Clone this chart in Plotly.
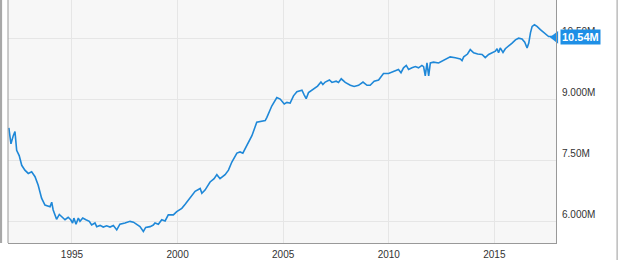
import plotly.graph_objects as go

years = [
    1992.01, 1992.11, 1992.22, 1992.30, 1992.38, 1992.50, 1992.62, 1992.77, 1992.93, 1993.09,
    1993.25, 1993.40, 1993.56, 1993.72, 1993.96, 1994.04, 1994.11, 1994.27, 1994.40, 1994.51,
    1994.67, 1994.82, 1994.94, 1995.03, 1995.09, 1995.19, 1995.30, 1995.38, 1995.51, 1995.66,
    1995.82, 1995.93, 1996.09, 1996.17, 1996.33, 1996.48, 1996.64, 1996.80, 1996.96, 1997.12,
    1997.27, 1997.51, 1997.75, 1997.91, 1998.07, 1998.22, 1998.38, 1998.49, 1998.70, 1998.85,
    1998.93, 1999.09, 1999.25, 1999.41, 1999.56, 1999.80, 1999.96, 2000.20, 2000.36, 2000.59,
    2000.83, 2001.07, 2001.15, 2001.30, 2001.54, 2001.73, 2001.86, 2002.01, 2002.25, 2002.41,
    2002.57, 2002.81, 2002.96, 2003.09, 2003.28, 2003.52, 2003.75, 2003.99, 2004.15, 2004.23,
    2004.46, 2004.70, 2004.86, 2005.05, 2005.18, 2005.33, 2005.49, 2005.65, 2005.89, 2006.00,
    2006.09, 2006.20, 2006.44, 2006.63, 2006.79, 2006.88, 2006.99, 2007.19, 2007.31, 2007.51,
    2007.62, 2007.75, 2007.94, 2008.18, 2008.36, 2008.57, 2008.78, 2008.97, 2009.12, 2009.31,
    2009.52, 2009.75, 2009.99, 2010.15, 2010.31, 2010.46, 2010.58, 2010.70, 2010.83, 2010.94,
    2011.10, 2011.26, 2011.41, 2011.57, 2011.65, 2011.73, 2011.81, 2011.89, 2011.97, 2012.12,
    2012.36, 2012.52, 2012.73, 2012.91, 2013.15, 2013.39, 2013.47, 2013.55, 2013.73, 2013.86,
    2014.02, 2014.21, 2014.42, 2014.57, 2014.73, 2014.89, 2015.05, 2015.13, 2015.20, 2015.28,
    2015.41, 2015.52, 2015.68, 2015.84, 2016.00, 2016.15, 2016.31, 2016.44, 2016.55, 2016.63,
    2016.71, 2016.79, 2016.90, 2017.02, 2017.18, 2017.42, 2017.57, 2017.73, 2017.89,
]

values_m = [
    8.31, 7.92, 8.12, 8.22, 7.76, 7.63, 7.39, 7.27, 7.19, 7.23,
    7.11, 6.90, 6.58, 6.41, 6.37, 6.48, 6.29, 6.06, 6.18, 6.13,
    6.05, 6.11, 6.05, 5.97, 6.09, 5.94, 6.09, 6.01, 6.09, 6.05,
    6.01, 5.92, 5.97, 5.88, 5.91, 5.87, 5.90, 5.87, 5.91, 5.80,
    5.94, 5.97, 6.01, 5.99, 5.94, 5.88, 5.76, 5.86, 5.88, 5.92,
    5.97, 5.94, 6.05, 6.02, 6.17, 6.17, 6.25, 6.33, 6.43, 6.58,
    6.75, 6.82, 6.70, 6.78, 6.98, 7.06, 7.16, 7.06, 7.16, 7.27,
    7.47, 7.69, 7.72, 7.69, 7.88, 8.12, 8.45, 8.47, 8.49, 8.57,
    8.85, 9.06, 9.02, 8.90, 8.94, 8.92, 9.10, 9.20, 9.24, 9.12,
    9.03, 9.18, 9.26, 9.34, 9.44, 9.38, 9.44, 9.49, 9.43, 9.46,
    9.43, 9.52, 9.43, 9.36, 9.33, 9.36, 9.44, 9.36, 9.36, 9.46,
    9.49, 9.65, 9.65, 9.68, 9.71, 9.75, 9.67, 9.79, 9.85, 9.75,
    9.79, 9.82, 9.79, 9.85, 9.82, 9.59, 9.91, 9.59, 9.91, 9.93,
    9.91, 9.95, 10.01, 10.06, 10.04, 10.01, 9.97, 10.06, 10.13, 10.24,
    10.16, 10.13, 10.12, 10.04, 10.12, 10.17, 10.20, 10.26, 10.16, 10.28,
    10.17, 10.26, 10.32, 10.40, 10.48, 10.52, 10.50, 10.42, 10.28, 10.40,
    10.65, 10.81, 10.85, 10.81, 10.73, 10.61, 10.56, 10.56, 10.54,
]

x_tick_vals = [1995, 2000, 2005, 2010, 2015]
x_tick_text = ["1995", "2000", "2005", "2010", "2015"]
y_tick_vals = [6.0, 7.5, 9.0, 10.5]
y_tick_text = ["6.000M", "7.50M", "9.000M", "10.50M"]
last_label = "10.54M"

LINE = "#1f88d8"
BADGE = "#1e8fe6"

fig = go.Figure()
fig.add_trace(go.Scatter(
    x=years, y=values_m, mode="lines",
    line=dict(color=LINE, width=1.6),
    hoverinfo="skip", showlegend=False,
))
fig.add_trace(go.Scatter(
    x=[years[-1]], y=[values_m[-1]], mode="markers",
    marker=dict(symbol="triangle-left", size=11, color=BADGE),
    cliponaxis=False, hoverinfo="skip", showlegend=False,
))

fig.add_annotation(
    x=years[-1], y=values_m[-1], xref="x", yref="y",
    text="<b>" + last_label + "</b>", showarrow=False,
    xanchor="left", yanchor="middle", xshift=5,
    font=dict(family="Liberation Sans, Arial, sans-serif", size=11, color="white"),
    bgcolor=BADGE, borderpad=1,
)

# frame decorations
fig.add_shape(type="line", xref="paper", yref="paper", x0=-0.0135, x1=-0.0135, y0=0, y1=1.1,
              line=dict(color="#a8a8a8", width=3), layer="above")
fig.add_shape(type="line", xref="paper", yref="paper", x0=1.1115, x1=1.1115, y0=-0.1, y1=1.1,
              line=dict(color="#9a9a9a", width=1), layer="above")

fig.update_layout(
    width=620, height=260,
    margin=dict(l=8, r=64, t=0, b=15),
    paper_bgcolor="white",
    plot_bgcolor="#f7f7f7",
    font=dict(family="Liberation Sans, Arial, sans-serif", size=10, color="#333333"),
    xaxis=dict(
        range=[1991.97, 2017.92],
        tickvals=x_tick_vals, ticktext=x_tick_text,
        showgrid=True, gridcolor="#e6e6e6", gridwidth=1,
        zeroline=False, showline=True, linecolor="#999999", linewidth=1,
        mirror=False, ticks="", ticklabelstandoff=2,
    ),
    yaxis=dict(
        range=[5.477, 11.46], side="right",
        tickvals=y_tick_vals, ticktext=y_tick_text,
        showgrid=True, gridcolor="#e6e6e6", gridwidth=1,
        zeroline=False, showline=True, linecolor="#999999", linewidth=1,
        ticks="", ticklabelstandoff=3, ticklabelshift=-7,
    ),
)
fig.add_shape(type="line", xref="paper", yref="paper", x0=0, x1=0, y0=0, y1=1,
              line=dict(color="#999999", width=1), layer="above")

fig.write_html("out.html")
